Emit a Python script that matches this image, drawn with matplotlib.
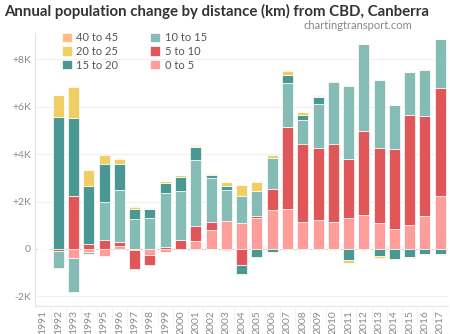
import numpy as np
import matplotlib.pyplot as plt

# annual change in thousands of persons, by distance band from CBD
years = list(range(1991, 2018))
km0_5 = [0, 0, -0.36, -0.11, -0.28, 0.13, -0.04, -0.25, -0.14, 0, 0.32, 0.81, 1.16, 1.08,
         1.29, 1.63, 1.68, 1.15, 1.22, 1.15, 1.31, 1.45, 1.11, 0.83, 1.02, 1.40, 2.25]
km5_10 = [0, -0.08, 2.25, 0.22, 0.38, 0.18, -0.81, -0.42, 0.07, 0.38, 0.66, 0.34, -0.04, -0.69,
          0.11, 0.91, 3.45, 3.26, 3.03, 3.27, 2.48, 3.52, 3.14, 3.38, 4.62, 4.20, 4.55]
km10_15 = [0, -0.70, -1.47, -0.08, 1.60, 2.19, 1.28, 1.32, 2.27, 2.08, 2.76, 1.85, 1.32, 1.15,
           1.04, 1.31, 1.88, 1.01, 1.85, 2.62, 3.09, 3.66, 2.89, 1.84, 1.80, 1.95, 2.04]
km15_20 = [0, 5.57, 3.26, 2.44, 1.61, 1.09, 0.42, 0.36, 0.45, 0.59, 0.56, 0.10, 0.17, -0.36,
           -0.32, -0.13, 0.31, 0.21, 0.29, 0, -0.46, 0, -0.31, -0.42, -0.34, -0.20, -0.20]
km20_25 = [0, 0.91, 1.31, 0.66, 0.38, 0.21, 0.07, 0.02, 0.07, 0.06, 0.06, 0.04, 0.18, 0.46,
           0.39, 0.13, 0.18, 0.13, 0.07, -0.04, -0.15, -0.03, -0.07, -0.06, -0.04, -0.04, -0.04]
km40_45 = [0, 0.02, 0.03, 0.03, 0.02, 0.02, 0.03, 0.02, 0, 0, 0.02, -0.02, 0, -0.04,
           0.02, -0.03, 0.03, 0, 0.02, 0.03, 0.03, 0.02, 0, 0.02, 0.02, 0.02, 0.02]

series = [("0 to 5", km0_5, "#ff9d9a"),
          ("5 to 10", km5_10, "#e15759"),
          ("10 to 15", km10_15, "#86bcb6"),
          ("15 to 20", km15_20, "#499894"),
          ("20 to 25", km20_25, "#f1ce63"),
          ("40 to 45", km40_45, "#ffbe7d")]

plt.rcParams['font.family'] = ['Lato', 'DejaVu Sans']

fig = plt.figure(figsize=(4.5, 3.34), dpi=100)
ax = fig.add_axes([0.078, 0.084, 0.918, 0.817])

x = np.arange(len(years))
pos = np.zeros(len(years))
neg = np.zeros(len(years))
handles = {}
for name, vals, col in series:
    v = np.array(vals)
    bottom = np.where(v >= 0, pos, neg)
    b = ax.bar(x, v, 0.72, bottom=bottom, color=col, edgecolor="white", linewidth=0.5, zorder=3)
    handles[name] = b
    pos = pos + np.where(v >= 0, v, 0)
    neg = neg + np.where(v < 0, v, 0)

ax.set_xlim(-0.52, 26.52)
ax.set_ylim(-2.4, 9.1)
ax.set_yticks([-2, 0, 2, 4, 6, 8])
ax.set_yticklabels(["-2K", "0", "+2K", "+4K", "+6K", "+8K"], color="#8a8a8a", fontsize=7.5)
ax.set_xticks(x)
ax.set_xticklabels([str(y) for y in years], rotation=90, color="#8a8a8a", fontsize=7.5)
ax.tick_params(length=0, pad=3)
ax.grid(axis="y", color="#f0f0f0", linewidth=0.8, zorder=0)
ax.axhline(0, color="#bbbbbb", linestyle=(0, (1, 1.5)), linewidth=0.8, zorder=2)
for s in ["top", "right"]:
    ax.spines[s].set_visible(False)
ax.spines["left"].set_color("#e6e6e6")
ax.spines["bottom"].set_color("#e6e6e6")

# header dividers between year labels
for xi in x[:-1]:
    ax.plot([xi + 0.5, xi + 0.5], [-2.4, -3.2], color="#f0f0f0", linewidth=0.6, clip_on=False)

order = ["40 to 45", "20 to 25", "15 to 20", "10 to 15", "5 to 10", "0 to 5"]
leg = ax.legend([handles[n] for n in order], order, ncol=2, loc="upper left",
                bbox_to_anchor=(0.04, 1.04), frameon=False, fontsize=8,
                handlelength=0.9, handleheight=0.9, handletextpad=0.4,
                columnspacing=2.9, labelspacing=0.25)
for t in leg.get_texts():
    t.set_color("#555555")

fig.text(0.008, 0.965, "Annual population change by distance (km) from CBD, Canberra",
         fontsize=10.8, fontweight="bold", color="#333333", va="center", ha="left")
fig.text(0.917, 0.925, "chartingtransport.com", fontsize=8, color="#888888",
         ha="right", va="center")

fig.savefig("out.png", dpi=100)
